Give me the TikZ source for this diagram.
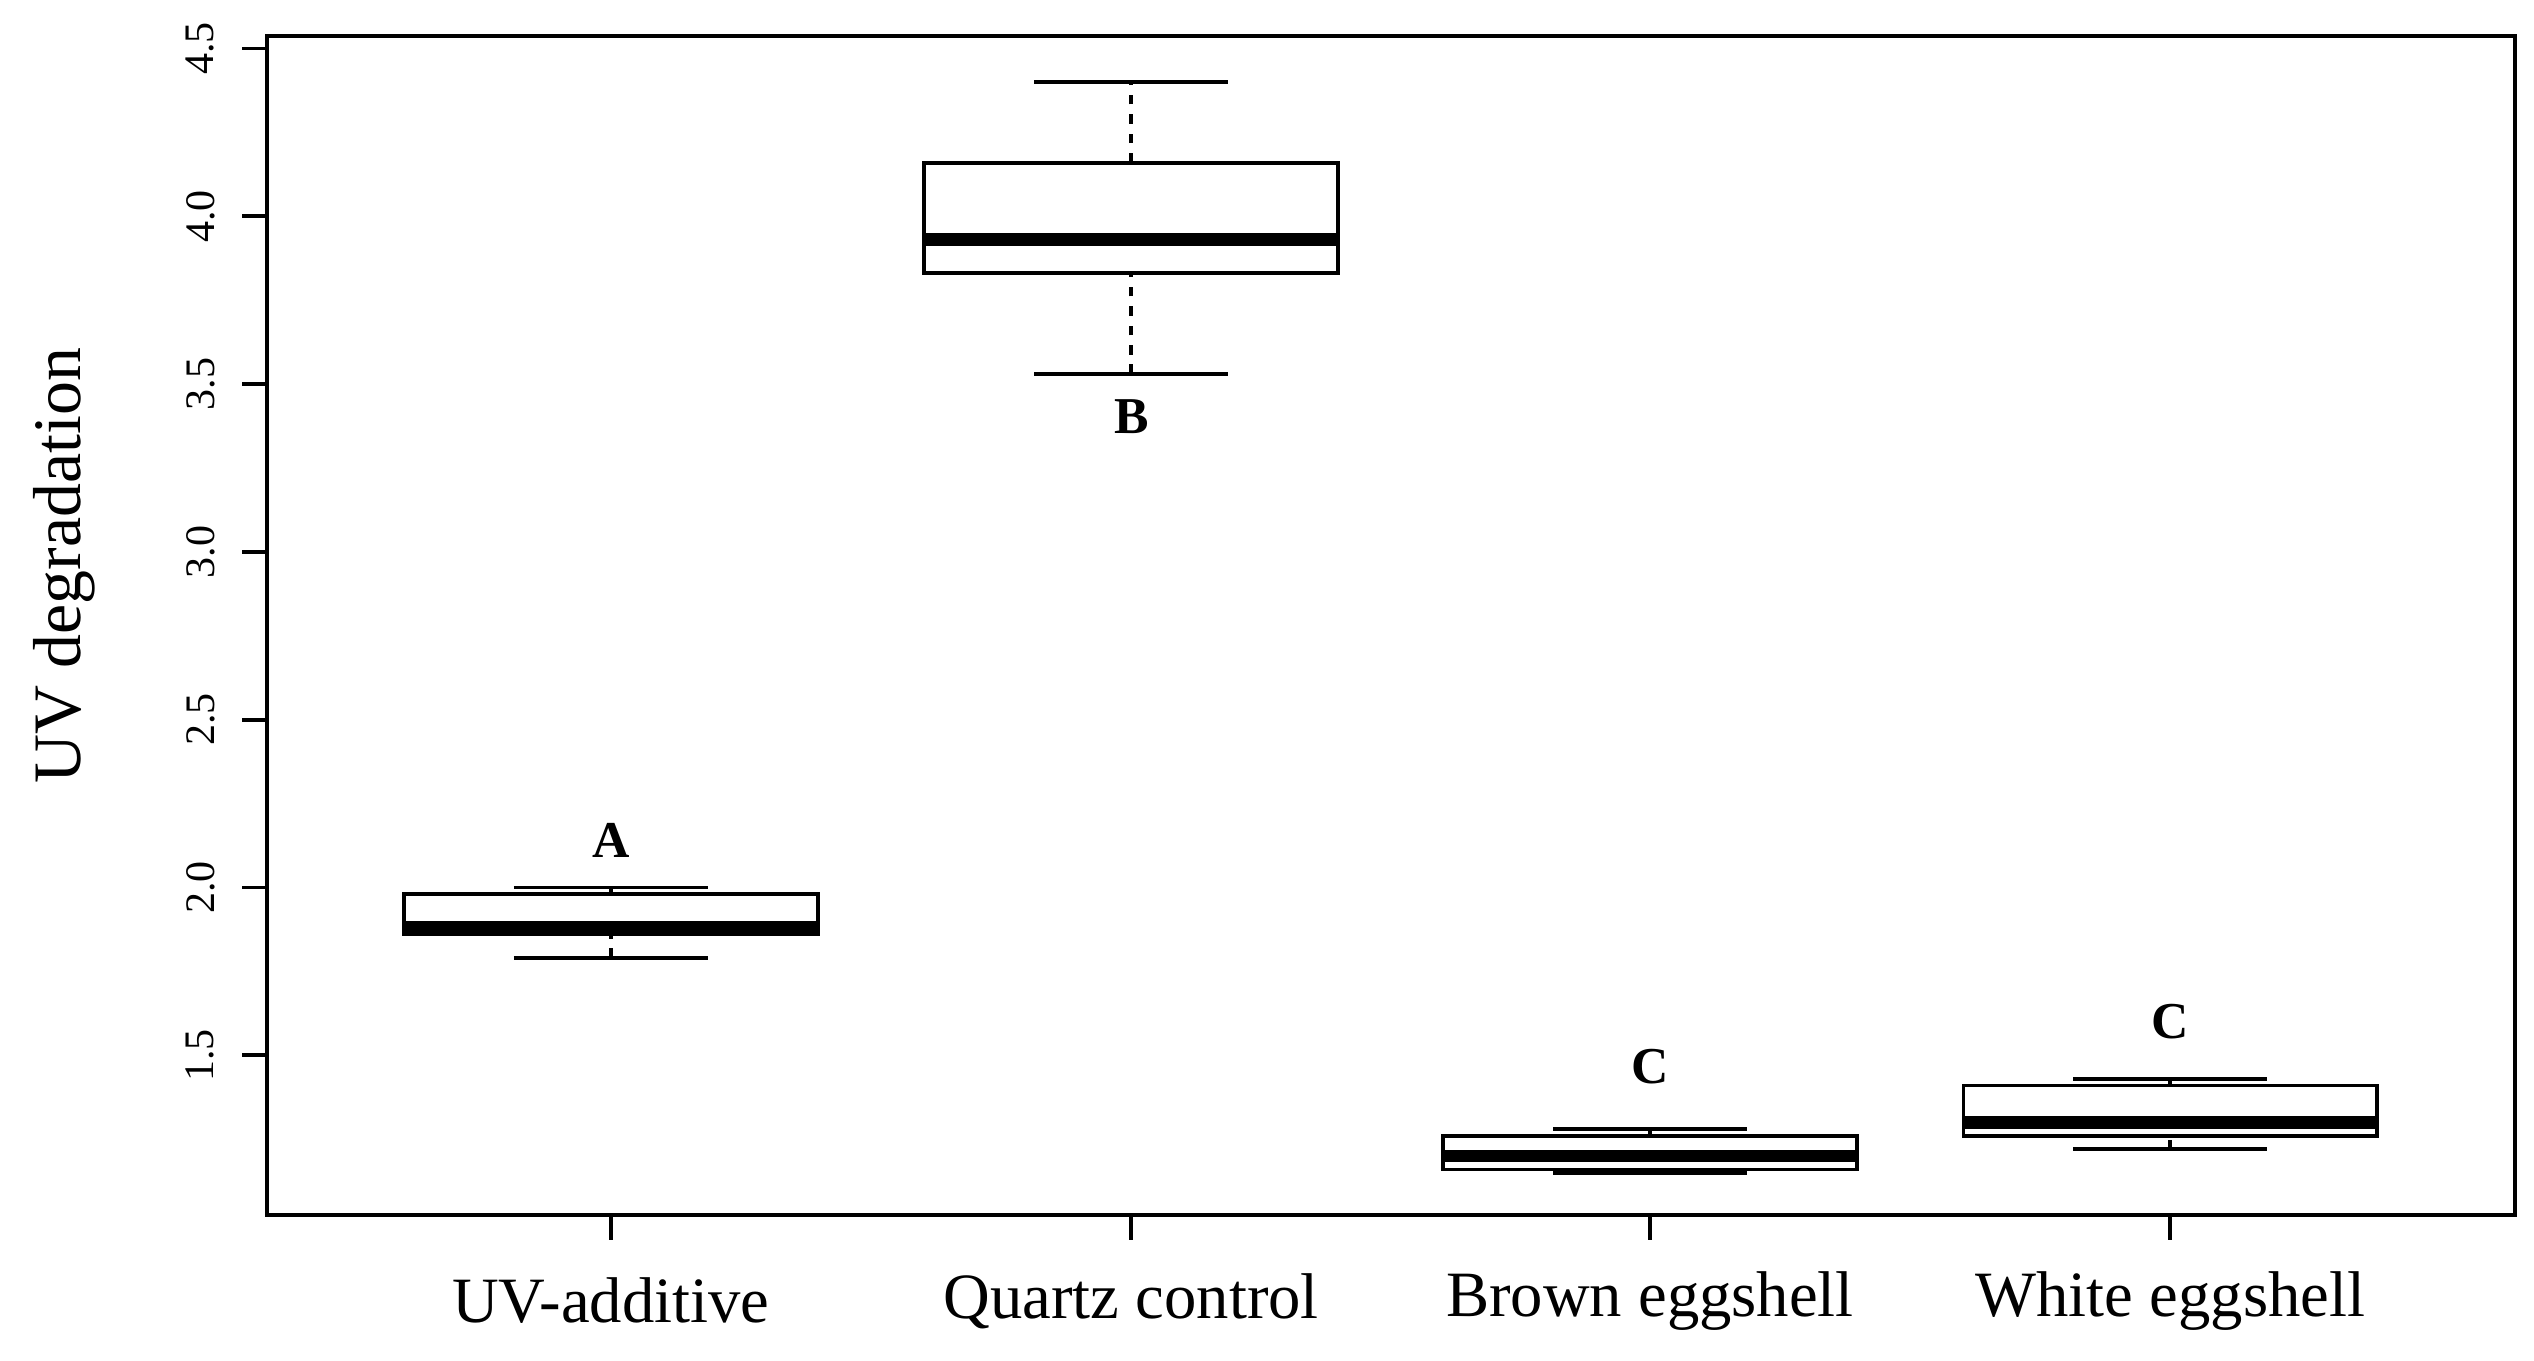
\documentclass[tikz,border=0pt]{standalone}
\usepackage{fontspec}
\setmainfont{Liberation Serif}
\begin{document}
\begin{tikzpicture}[x=0.5pt,y=-0.5pt,
  ln/.style={line width=1.2pt},
  med/.style={line width=4pt},
  tick/.style={font=\fontsize{13}{13}\selectfont},
  cat/.style={font=\fontsize{20}{20}\selectfont},
  let/.style={font=\bfseries\fontsize{16}{16}\selectfont}]
\useasboundingbox (0,0) rectangle (1568,842);
\def\Y#1{30+(4.5-#1)*207.67}
% frame
\draw[ln] (165,22) rectangle (1556,752);
% y ticks
\foreach \v in {1.5,2.0,2.5,3.0,3.5,4.0,4.5}{
  \draw[ln] (150,{\Y{\v}}) -- (165,{\Y{\v}});
  \node[tick,rotate=90] (t\v) at (124,{\Y{\v}}) {\v};
}
\node[font=\fontsize{21}{21}\selectfont,rotate=90] (yl) at (40,350) {UV degradation};
% boxes: x, wlo, q1, med, q3, whi
\foreach \x/\wl/\qa/\m/\qb/\wh/\n in {378/1.79/1.86/1.88/1.98/2.0/a,700/3.53/3.83/3.93/4.16/4.40/b,1021/1.15/1.16/1.20/1.26/1.28/c,1343/1.22/1.26/1.30/1.41/1.43/d}{
  \draw[ln,dashed] (\x,{\Y{\wl}}) -- (\x,{\Y{\qa}});
  \draw[ln,dashed] (\x,{\Y{\qb}}) -- (\x,{\Y{\wh}});
  \draw[ln] (\x-60,{\Y{\wl}}) -- (\x+60,{\Y{\wl}});
  \draw[ln] (\x-60,{\Y{\wh}}) -- (\x+60,{\Y{\wh}});
  \draw[ln,fill=white] (\x-128,{\Y{\qa}}) rectangle (\x+128,{\Y{\qb}});
  \draw[med] (\x-128,{\Y{\m}}) -- (\x+128,{\Y{\m}});
  \draw[ln] (\x,752) -- (\x,767);
}
\node[cat] (c1) at (378,805) {UV-additive};
\node[cat] (c2) at (700,805) {Quartz control};
\node[cat] (c3) at (1021,805) {Brown eggshell};
\node[cat] (c4) at (1343,805) {White eggshell};
\node[let] (lA) at (378,520) {A};
\node[let] (lB) at (700,258) {B};
\node[let] (lC1) at (1021,660) {C};
\node[let] (lC2) at (1343,632) {C};
\end{tikzpicture}
\end{document}
